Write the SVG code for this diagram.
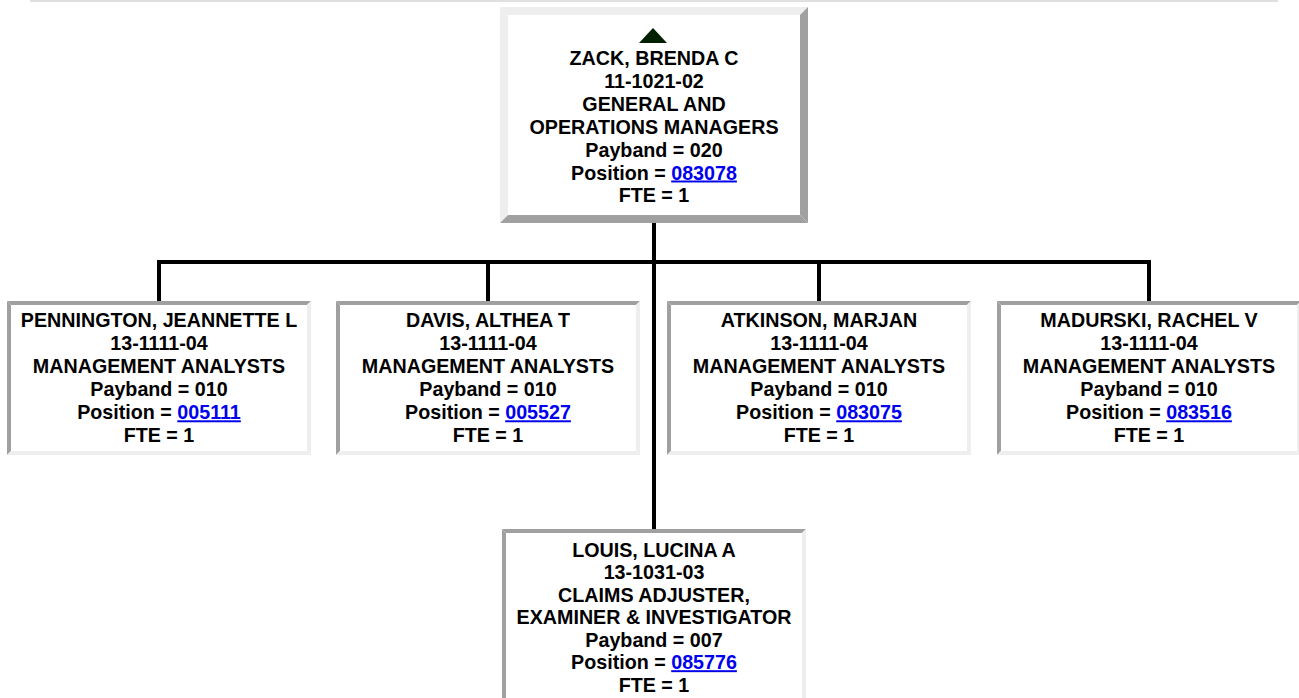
<svg xmlns="http://www.w3.org/2000/svg" width="1299" height="698" viewBox="0 0 1299 698">
<style>
.t{font-family:"Liberation Sans",Arial,sans-serif;font-weight:bold;font-size:19.7px;fill:#000;text-anchor:middle}
.lnk{fill:#0000ee;text-decoration:underline}
.lt{fill:#eeeeee}
.dk{fill:#a0a0a0}
.bg{fill:#ffffff}
.con{stroke:#000;stroke-width:4;fill:none}
</style>
<rect x="30" y="0" width="1248" height="2" fill="#e0e0e0"/>
<g id="connectors">
<line class="con" x1="654" y1="223" x2="654" y2="531"/>
<line class="con" x1="157" y1="262" x2="1151" y2="262"/>
<line class="con" x1="159" y1="260" x2="159" y2="302"/>
<line class="con" x1="488" y1="260" x2="488" y2="302"/>
<line class="con" x1="819" y1="260" x2="819" y2="302"/>
<line class="con" x1="1149" y1="260" x2="1149" y2="302"/>
</g>
<g id="zack">
<rect class="bg" x="500" y="7" width="308" height="216"/>
<polygon class="lt" points="500,7 808,7 800,15 508,15"/>
<polygon class="lt" points="500,7 508,15 508,215 500,223"/>
<polygon class="dk" points="808,7 808,223 800,215 800,15"/>
<polygon class="dk" points="500,223 808,223 800,215 508,215"/>
<polygon points="653,28 667,43 639,43" fill="#002000"/>
<text class="t" x="654" y="65">ZACK, BRENDA C</text>
<text class="t" x="654" y="88">11-1021-02</text>
<text class="t" x="654" y="111">GENERAL AND</text>
<text class="t" x="654" y="134">OPERATIONS MANAGERS</text>
<text class="t" x="654" y="157">Payband = 020</text>
<text class="t" x="654" y="179.5">Position = <tspan class="lnk">083078</tspan></text>
<text class="t" x="654" y="202">FTE = 1</text>
</g>
<g id="pennington">
<rect class="bg" x="7" y="301" width="304" height="154"/>
<polygon class="dk" points="7,301 311,301 307,305 11,305"/>
<polygon class="dk" points="7,301 11,305 11,451 7,455"/>
<polygon class="lt" points="311,301 311,455 307,451 307,305"/>
<polygon class="lt" points="7,455 311,455 307,451 11,451"/>
<text class="t" x="159" y="327.3">PENNINGTON, JEANNETTE L</text>
<text class="t" x="159" y="350.3">13-1111-04</text>
<text class="t" x="159" y="373.3">MANAGEMENT ANALYSTS</text>
<text class="t" x="159" y="396.3">Payband = 010</text>
<text class="t" x="159" y="419.3">Position = <tspan class="lnk">005111</tspan></text>
<text class="t" x="159" y="442.3">FTE = 1</text>
</g>
<g id="davis">
<rect class="bg" x="336" y="301" width="304" height="154"/>
<polygon class="dk" points="336,301 640,301 636,305 340,305"/>
<polygon class="dk" points="336,301 340,305 340,451 336,455"/>
<polygon class="lt" points="640,301 640,455 636,451 636,305"/>
<polygon class="lt" points="336,455 640,455 636,451 340,451"/>
<text class="t" x="488" y="327.3">DAVIS, ALTHEA T</text>
<text class="t" x="488" y="350.3">13-1111-04</text>
<text class="t" x="488" y="373.3">MANAGEMENT ANALYSTS</text>
<text class="t" x="488" y="396.3">Payband = 010</text>
<text class="t" x="488" y="419.3">Position = <tspan class="lnk">005527</tspan></text>
<text class="t" x="488" y="442.3">FTE = 1</text>
</g>
<g id="atkinson">
<rect class="bg" x="667" y="301" width="304" height="154"/>
<polygon class="dk" points="667,301 971,301 967,305 671,305"/>
<polygon class="dk" points="667,301 671,305 671,451 667,455"/>
<polygon class="lt" points="971,301 971,455 967,451 967,305"/>
<polygon class="lt" points="667,455 971,455 967,451 671,451"/>
<text class="t" x="819" y="327.3">ATKINSON, MARJAN</text>
<text class="t" x="819" y="350.3">13-1111-04</text>
<text class="t" x="819" y="373.3">MANAGEMENT ANALYSTS</text>
<text class="t" x="819" y="396.3">Payband = 010</text>
<text class="t" x="819" y="419.3">Position = <tspan class="lnk">083075</tspan></text>
<text class="t" x="819" y="442.3">FTE = 1</text>
</g>
<g id="madurski">
<rect class="bg" x="997" y="301" width="304" height="154"/>
<polygon class="dk" points="997,301 1301,301 1297,305 1001,305"/>
<polygon class="dk" points="997,301 1001,305 1001,451 997,455"/>
<polygon class="lt" points="1301,301 1301,455 1297,451 1297,305"/>
<polygon class="lt" points="997,455 1301,455 1297,451 1001,451"/>
<text class="t" x="1149" y="327.3">MADURSKI, RACHEL V</text>
<text class="t" x="1149" y="350.3">13-1111-04</text>
<text class="t" x="1149" y="373.3">MANAGEMENT ANALYSTS</text>
<text class="t" x="1149" y="396.3">Payband = 010</text>
<text class="t" x="1149" y="419.3">Position = <tspan class="lnk">083516</tspan></text>
<text class="t" x="1149" y="442.3">FTE = 1</text>
</g>
<g id="louis">
<rect class="bg" x="502" y="529" width="304" height="180"/>
<polygon class="dk" points="502,529 806,529 802,533 506,533"/>
<polygon class="dk" points="502,529 506,533 506,705 502,709"/>
<polygon class="lt" points="806,529 806,709 802,705 802,533"/>
<text class="t" x="654" y="556.7">LOUIS, LUCINA A</text>
<text class="t" x="654" y="579.2">13-1031-03</text>
<text class="t" x="654" y="601.7">CLAIMS ADJUSTER,</text>
<text class="t" x="654" y="624.2">EXAMINER &amp; INVESTIGATOR</text>
<text class="t" x="654" y="646.7">Payband = 007</text>
<text class="t" x="654" y="669.2">Position = <tspan class="lnk">085776</tspan></text>
<text class="t" x="654" y="691.7">FTE = 1</text>
</g>
</svg>
